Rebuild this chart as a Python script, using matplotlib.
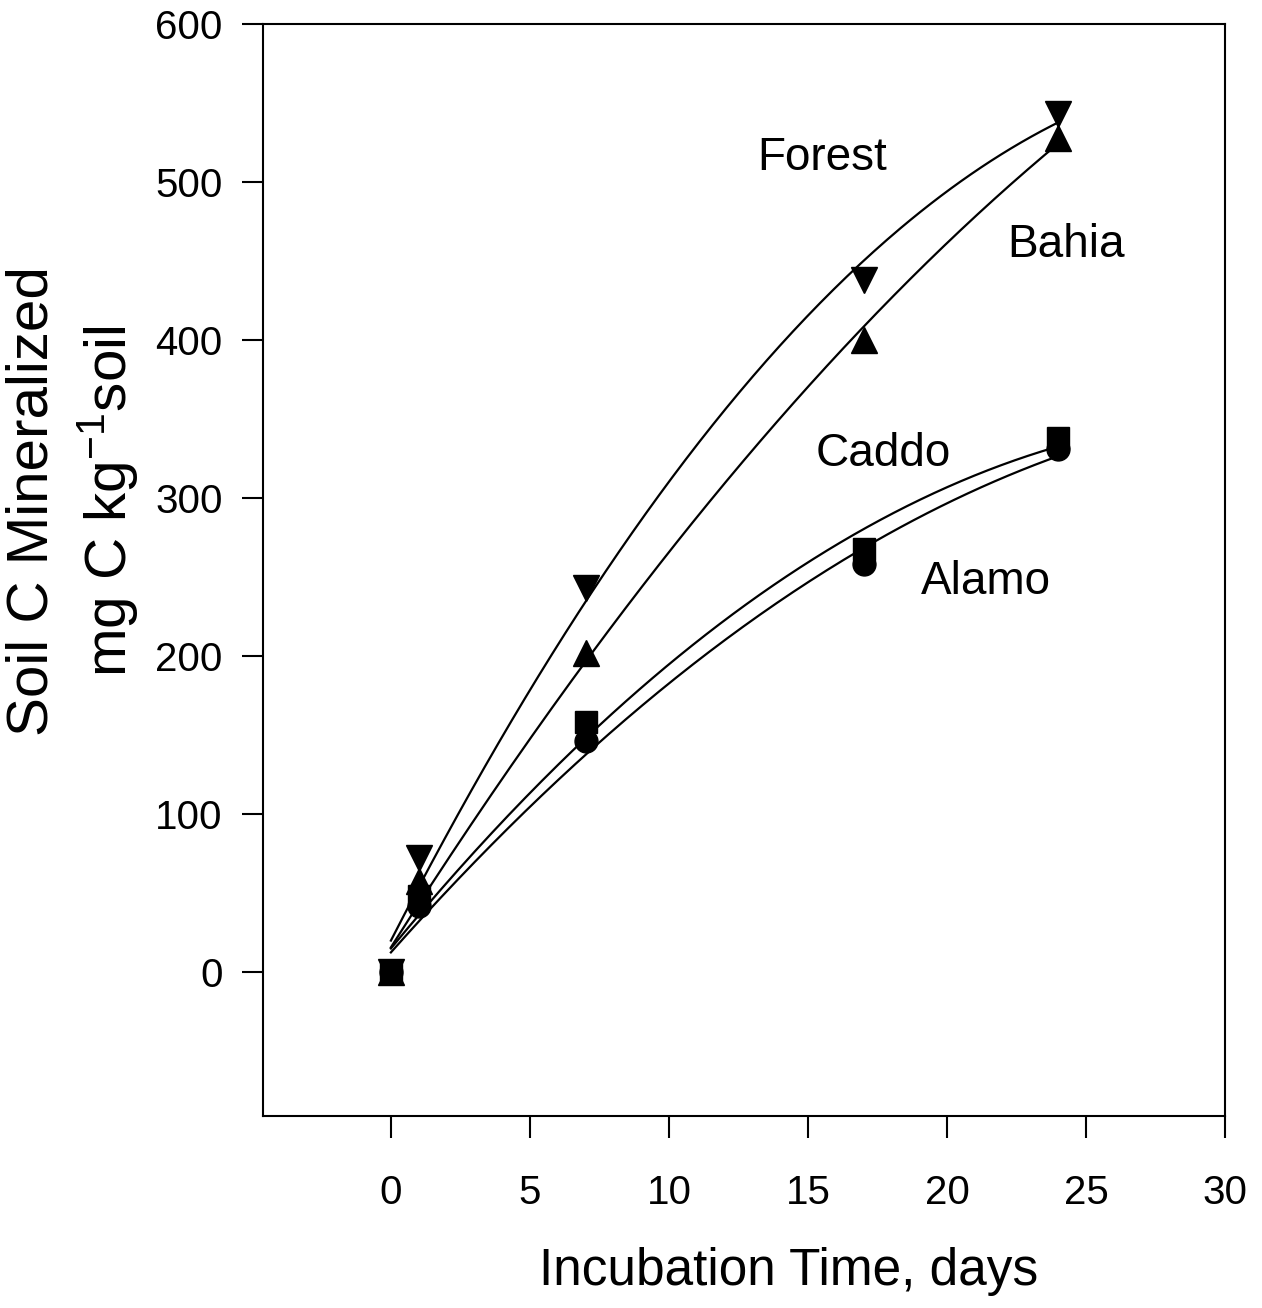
import numpy as np
import matplotlib
matplotlib.use("Agg")
import matplotlib.pyplot as plt

plt.rcParams["font.family"] = ["Liberation Sans", "DejaVu Sans"]
plt.rcParams["mathtext.fontset"] = "custom"
plt.rcParams["mathtext.rm"] = "Liberation Sans"
plt.rcParams["mathtext.it"] = "Liberation Sans:italic"
plt.rcParams["mathtext.bf"] = "Liberation Sans:bold"

# Incubation days and cumulative C mineralized (mg C / kg soil)
days = [0, 1, 7, 17, 24]
forest = [0, 72, 243, 438, 543]
bahia = [0, 58, 202, 400, 528]
caddo = [0, 48, 158, 268, 338]
alamo = [0, 42, 146, 258, 331]

series_names = ["Forest", "Bahia", "Caddo", "Alamo"]
series_values = [forest, bahia, caddo, alamo]
series_markers = ["v", "^", "s", "o"]
series_label_xy = [(15.5, 515), (24.3, 460), (17.7, 328), (21.4, 247)]

x_ticks = [0, 5, 10, 15, 20, 25, 30]
y_ticks = [0, 100, 200, 300, 400, 500, 600]

fig = plt.figure(figsize=(12.62, 13.08), dpi=100)
ax = fig.add_axes([0.2084, 0.1468, 0.7623, 0.8349])

xs = np.array(days, dtype=float)
xfit = np.linspace(0, 24, 200)
for name, vals, mk in zip(series_names, series_values, series_markers):
    ys = np.array(vals, dtype=float)
    ms = 19 if mk in ("v", "^") else 16.5
    ax.plot(xs, ys, linestyle="none", marker=mk, color="black",
            markersize=ms, zorder=3)
    # second-order regression curve through the observations
    coef = np.polyfit(xs, ys, 2)
    ax.plot(xfit, np.polyval(coef, xfit), color="black", lw=1.6, zorder=2)

for name, (tx, ty) in zip(series_names, series_label_xy):
    ax.text(tx, ty, name, fontsize=33, ha="center", va="center")

ax.set_xlim(-4.6, 30)
ax.set_ylim(-91, 600)
ax.set_xticks(x_ticks)
ax.set_yticks(y_ticks)
ax.tick_params(axis="x", direction="out", length=16, width=1.5, pad=26,
               labelsize=29)
ax.tick_params(axis="y", direction="out", length=15, width=1.5, pad=14,
               labelsize=29)
for sp in ax.spines.values():
    sp.set_linewidth(1.5)

ax.set_xlabel("Incubation Time, days", fontsize=37)
ax.xaxis.set_label_coords(0.546, -0.12)
ax.set_ylabel("Soil C Mineralized\nmg C kg$^{-1}$soil", fontsize=42,
              linespacing=1.3)
ax.yaxis.set_label_coords(-0.128, 0.563)

fig.savefig("out.png", dpi=100)
